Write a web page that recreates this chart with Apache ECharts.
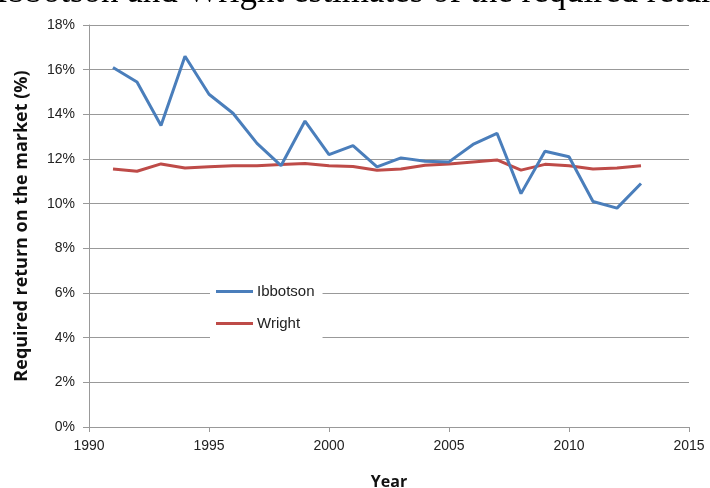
<!DOCTYPE html>
<html>
<head>
<meta charset="utf-8">
<script src="https://cdn.jsdelivr.net/npm/echarts@6/dist/echarts.min.js"></script>
<style>
  html, body { margin: 0; padding: 0; background: #fff; }
  #chart { width: 710px; height: 488px; }
</style>
</head>
<body>
<div id="chart"></div>
<script>
// years and required returns (%)
const years = [1991, 1992, 1993, 1994, 1995, 1996, 1997, 1998, 1999, 2000, 2001, 2002,
  2003, 2004, 2005, 2006, 2007, 2008, 2009, 2010, 2011, 2012, 2013]
const ibbotson = [16.1, 15.45, 13.5, 16.6, 14.9, 14.05, 12.7, 11.7, 13.7, 12.2, 12.6, 11.65,
  12.05, 11.9, 11.87, 12.65, 13.15, 10.45, 12.35, 12.1, 10.1, 9.8, 10.9]
const wright = [11.55, 11.45, 11.78, 11.6, 11.65, 11.7, 11.7, 11.75, 11.8, 11.7, 11.66, 11.5,
  11.55, 11.72, 11.78, 11.87, 11.96, 11.5, 11.76, 11.7, 11.55, 11.6, 11.7]

// the title is cut off by the top edge of the picture
const titleText = 'Ibbotson and Wright estimates of the required return on the market'

const pair = (vals) => years.map((y, i) => [y, vals[i]])

const chart = echarts.init(document.getElementById('chart'))
chart.setOption({
  animation: false,
  backgroundColor: '#fff',
  textStyle: { fontFamily: 'Liberation Sans' },
  graphic: [{
    type: 'text',
    left: -4,
    top: -25,
    style: {
      text: titleText,
      font: '35px "Liberation Serif"',
      fill: '#000'
    }
  }],
  grid: { left: 89, right: 21, top: 25, bottom: 61, containLabel: false, outerBoundsMode: 'none' },
  legend: {
    orient: 'vertical',
    left: 210,
    top: 277,
    backgroundColor: '#fff',
    padding: [7, 8, 8, 6],
    itemGap: 17,
    itemWidth: 37,
    itemHeight: 3,
    icon: 'rect',
    textStyle: { fontSize: 15, color: '#222', padding: [0, 0, 0, -1] },
    data: ['Ibbotson', 'Wright']
  },
  xAxis: {
    type: 'value',
    min: 1990,
    max: 2015,
    interval: 5,
    name: 'Year',
    nameLocation: 'middle',
    nameGap: 47,
    nameTextStyle: { fontWeight: 'bold', fontSize: 16, color: '#111', fontFamily: 'Open Sans' },
    axisLine: { show: true, lineStyle: { color: '#999' } },
    axisTick: { show: true, length: 5, lineStyle: { color: '#999' } },
    axisLabel: { fontSize: 14, color: '#222', margin: 12, formatter: (v) => String(v) },
    splitLine: { show: false }
  },
  yAxis: {
    type: 'value',
    min: 0,
    max: 18,
    interval: 2,
    name: 'Required return on the market (%)',
    nameLocation: 'middle',
    nameGap: 58,
    nameTextStyle: { fontWeight: 'bold', fontSize: 18, color: '#111', fontFamily: 'Open Sans' },
    axisLine: { show: true, lineStyle: { color: '#999' } },
    axisTick: { show: true, length: 6, lineStyle: { color: '#999' } },
    axisLabel: { fontSize: 14, color: '#222', margin: 14, formatter: '{value}%' },
    splitLine: { show: true, lineStyle: { color: '#999', width: 1 } }
  },
  series: [
    {
      name: 'Ibbotson',
      type: 'line',
      data: pair(ibbotson),
      showSymbol: false,
      lineStyle: { width: 3, color: '#4a7ebb' },
      itemStyle: { color: '#4a7ebb' },
      z: 3
    },
    {
      name: 'Wright',
      type: 'line',
      data: pair(wright),
      showSymbol: false,
      lineStyle: { width: 3, color: '#be4b48' },
      itemStyle: { color: '#be4b48' },
      z: 2
    }
  ]
})
</script>
</body>
</html>
